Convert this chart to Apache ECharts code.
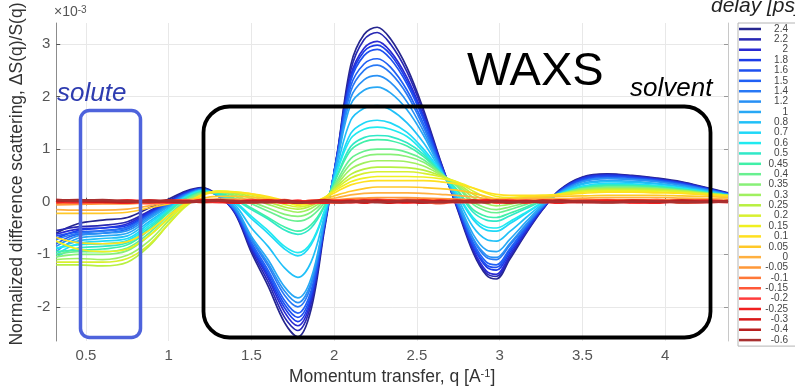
<!DOCTYPE html>
<html>
<head>
<meta charset="utf-8">
<script src="https://cdn.jsdelivr.net/npm/echarts@6/dist/echarts.min.js"></script>
<style>
html, body { margin: 0; padding: 0; background: #fff; }
#chart { width: 795px; height: 391px; }
</style>
</head>
<body>
<div id="chart"></div>
<script>
// momentum transfer grid, q [A^-1]
var q = [0.32, 0.45, 0.6, 0.75, 0.88, 1.0, 1.1, 1.2, 1.3, 1.4,
	1.5, 1.6, 1.7, 1.78, 1.86, 1.94, 2.02, 2.1, 2.18, 2.26,
	2.34, 2.44, 2.54, 2.64, 2.74, 2.84, 2.92, 2.98, 3.06, 3.16,
	3.26, 3.36, 3.5, 3.65, 3.8, 3.95, 4.1, 4.25, 4.38];

var delays = ['2.4', '2.2', '2', '1.8', '1.6', '1.5', '1.4', '1.2', '1', '0.8', '0.7', '0.6', '0.5', '0.45', '0.4',
	'0.35', '0.3', '0.25', '0.2', '0.15', '0.1', '0.05', '0', '-0.05', '-0.1', '-0.15', '-0.2', '-0.25', '-0.3', '-0.4', '-0.6'];

var xTicks = [0.5, 1, 1.5, 2, 2.5, 3, 3.5, 4];
var yTicks = [-2, -1, 0, 1, 2, 3];

// dS/S (x1e-3) for each delay
var d24 = [-0.6, -0.42, -0.35, -0.3, -0.12, 0.05, 0.2, 0.27, 0.12, -0.22, -0.97, -1.6, -2.3, -2.57, -2.05, -0.55, 0.95, 2.6, 3.18, 3.32, 3.1, 2.55, 1.75, 0.8, -0.1, -0.97, -1.4, -1.47, -1.1, -0.6, -0.15, 0.22, 0.47, 0.53, 0.5, 0.45, 0.38, 0.27, 0.17];
var d22 = [-0.55, -0.48, -0.45, -0.38, -0.18, 0.02, 0.18, 0.26, 0.12, -0.2, -0.92, -1.52, -2.2, -2.45, -1.95, -0.5, 0.95, 2.5, 3.08, 3.22, 3.0, 2.47, 1.7, 0.78, -0.08, -0.93, -1.36, -1.42, -1.06, -0.58, -0.14, 0.21, 0.46, 0.52, 0.49, 0.44, 0.37, 0.26, 0.16];
var d20 = [-0.62, -0.52, -0.5, -0.42, -0.2, 0.0, 0.17, 0.25, 0.11, -0.2, -0.88, -1.45, -2.1, -2.36, -1.88, -0.48, 0.93, 2.4, 2.92, 3.05, 2.86, 2.36, 1.63, 0.76, -0.06, -0.9, -1.32, -1.38, -1.02, -0.56, -0.13, 0.2, 0.44, 0.5, 0.48, 0.43, 0.36, 0.25, 0.16];
var d18 = [-0.7, -0.55, -0.5, -0.45, -0.22, -0.02, 0.16, 0.25, 0.11, -0.18, -0.85, -1.4, -2.02, -2.28, -1.82, -0.46, 0.92, 2.35, 2.86, 2.98, 2.8, 2.3, 1.6, 0.74, -0.05, -0.85, -1.24, -1.3, -0.97, -0.53, -0.12, 0.2, 0.44, 0.5, 0.47, 0.42, 0.35, 0.25, 0.15];
var d16 = [-0.65, -0.58, -0.55, -0.48, -0.24, -0.03, 0.15, 0.24, 0.11, -0.17, -0.82, -1.35, -1.95, -2.2, -1.76, -0.45, 0.9, 2.3, 2.78, 2.9, 2.72, 2.24, 1.56, 0.72, -0.04, -0.82, -1.2, -1.25, -0.93, -0.5, -0.11, 0.19, 0.42, 0.48, 0.46, 0.41, 0.34, 0.24, 0.15];
var d15 = [-0.8, -0.62, -0.6, -0.52, -0.26, -0.04, 0.14, 0.24, 0.11, -0.16, -0.78, -1.3, -1.88, -2.12, -1.7, -0.43, 0.88, 2.2, 2.62, 2.72, 2.56, 2.12, 1.48, 0.7, -0.02, -0.78, -1.15, -1.2, -0.9, -0.48, -0.1, 0.18, 0.4, 0.46, 0.44, 0.4, 0.33, 0.23, 0.14];
var d14 = [-0.72, -0.6, -0.56, -0.5, -0.27, -0.05, 0.13, 0.23, 0.11, -0.15, -0.73, -1.22, -1.78, -2.0, -1.6, -0.4, 0.86, 2.1, 2.5, 2.6, 2.45, 2.04, 1.42, 0.68, 0.0, -0.72, -1.06, -1.1, -0.83, -0.45, -0.09, 0.18, 0.39, 0.45, 0.43, 0.39, 0.32, 0.23, 0.14];
var d12 = [-0.85, -0.65, -0.6, -0.55, -0.3, -0.07, 0.12, 0.22, 0.11, -0.13, -0.7, -1.17, -1.7, -1.92, -1.54, -0.38, 0.84, 1.98, 2.32, 2.4, 2.27, 1.9, 1.34, 0.66, 0.02, -0.7, -1.02, -1.06, -0.8, -0.43, -0.08, 0.17, 0.38, 0.44, 0.42, 0.38, 0.31, 0.22, 0.14];
var d10 = [-0.95, -0.7, -0.65, -0.6, -0.33, -0.09, 0.11, 0.22, 0.12, -0.1, -0.66, -1.1, -1.62, -1.83, -1.46, -0.36, 0.8, 1.85, 2.12, 2.18, 2.07, 1.75, 1.26, 0.64, 0.05, -0.62, -0.92, -0.95, -0.72, -0.38, -0.06, 0.16, 0.35, 0.4, 0.39, 0.35, 0.29, 0.21, 0.13];
var d08 = [-0.9, -0.75, -0.7, -0.65, -0.38, -0.12, 0.1, 0.21, 0.13, -0.06, -0.5, -0.85, -1.26, -1.44, -1.15, -0.28, 0.7, 1.55, 1.78, 1.83, 1.75, 1.5, 1.12, 0.62, 0.1, -0.48, -0.72, -0.75, -0.57, -0.3, -0.04, 0.15, 0.33, 0.38, 0.37, 0.34, 0.28, 0.2, 0.13];
var d07 = [-1.0, -0.8, -0.75, -0.7, -0.42, -0.14, 0.09, 0.2, 0.14, -0.02, -0.32, -0.6, -0.9, -1.03, -0.82, -0.2, 0.62, 1.3, 1.5, 1.55, 1.5, 1.32, 1.0, 0.6, 0.15, -0.34, -0.54, -0.56, -0.42, -0.22, -0.02, 0.15, 0.3, 0.35, 0.34, 0.31, 0.26, 0.19, 0.12];
var d06 = [-0.88, -0.82, -0.8, -0.74, -0.46, -0.16, 0.08, 0.2, 0.15, 0.0, -0.28, -0.55, -0.85, -0.97, -0.78, -0.18, 0.6, 1.2, 1.38, 1.42, 1.38, 1.24, 0.95, 0.58, 0.17, -0.3, -0.48, -0.5, -0.38, -0.2, -0.01, 0.14, 0.28, 0.33, 0.32, 0.3, 0.25, 0.18, 0.12];
var d05 = [-1.05, -0.88, -0.85, -0.78, -0.5, -0.18, 0.06, 0.19, 0.16, 0.04, -0.15, -0.33, -0.54, -0.62, -0.5, -0.1, 0.52, 1.05, 1.22, 1.26, 1.24, 1.12, 0.9, 0.57, 0.22, -0.2, -0.35, -0.37, -0.27, -0.13, 0.02, 0.14, 0.27, 0.32, 0.31, 0.29, 0.24, 0.18, 0.12];
var d045 = [-0.95, -0.92, -0.9, -0.82, -0.54, -0.2, 0.05, 0.18, 0.17, 0.06, -0.12, -0.3, -0.48, -0.56, -0.44, -0.08, 0.5, 0.98, 1.14, 1.18, 1.16, 1.06, 0.86, 0.56, 0.24, -0.15, -0.28, -0.3, -0.22, -0.1, 0.03, 0.14, 0.26, 0.3, 0.3, 0.28, 0.23, 0.17, 0.12];
var d04 = [-1.0, -0.95, -0.95, -0.88, -0.6, -0.25, 0.02, 0.17, 0.18, 0.1, -0.04, -0.18, -0.32, -0.37, -0.28, -0.02, 0.42, 0.82, 0.96, 1.0, 1.0, 0.94, 0.8, 0.55, 0.3, -0.05, -0.18, -0.21, -0.15, -0.05, 0.05, 0.14, 0.25, 0.28, 0.28, 0.26, 0.22, 0.17, 0.12];
var d035 = [-1.05, -1.0, -1.0, -0.93, -0.65, -0.3, 0.0, 0.16, 0.18, 0.12, 0.0, -0.12, -0.24, -0.28, -0.2, 0.02, 0.38, 0.72, 0.86, 0.9, 0.9, 0.86, 0.75, 0.54, 0.32, 0.0, -0.12, -0.15, -0.1, -0.02, 0.06, 0.14, 0.24, 0.27, 0.27, 0.25, 0.21, 0.16, 0.12];
var d03 = [-1.1, -1.08, -1.1, -1.02, -0.75, -0.36, -0.04, 0.15, 0.19, 0.15, 0.06, -0.05, -0.15, -0.2, -0.13, 0.05, 0.34, 0.62, 0.74, 0.78, 0.78, 0.76, 0.68, 0.52, 0.34, 0.08, -0.04, -0.08, -0.05, 0.02, 0.08, 0.14, 0.22, 0.25, 0.25, 0.24, 0.2, 0.16, 0.12];
var d025 = [-1.2, -1.2, -1.22, -1.15, -0.85, -0.42, -0.08, 0.13, 0.19, 0.17, 0.1, 0.0, -0.1, -0.14, -0.08, 0.06, 0.3, 0.52, 0.62, 0.66, 0.66, 0.65, 0.6, 0.5, 0.36, 0.14, 0.02, -0.03, -0.01, 0.04, 0.09, 0.14, 0.21, 0.24, 0.24, 0.23, 0.2, 0.15, 0.11];
var d02 = [-1.15, -1.15, -1.15, -1.08, -0.82, -0.42, -0.1, 0.12, 0.2, 0.18, 0.13, 0.05, -0.05, -0.1, -0.05, 0.07, 0.27, 0.45, 0.54, 0.57, 0.57, 0.57, 0.54, 0.48, 0.38, 0.2, 0.08, 0.02, 0.03, 0.07, 0.1, 0.14, 0.2, 0.22, 0.22, 0.21, 0.19, 0.15, 0.11];
var d015 = [-0.75, -0.9, -0.95, -0.9, -0.65, -0.32, -0.06, 0.13, 0.2, 0.19, 0.15, 0.08, 0.0, -0.07, -0.03, 0.08, 0.24, 0.38, 0.45, 0.48, 0.48, 0.48, 0.47, 0.44, 0.38, 0.26, 0.16, 0.1, 0.08, 0.1, 0.12, 0.14, 0.18, 0.2, 0.2, 0.19, 0.17, 0.14, 0.11];
var d01 = [-0.68, -0.78, -0.8, -0.76, -0.55, -0.26, -0.04, 0.12, 0.18, 0.18, 0.15, 0.1, 0.02, -0.05, -0.02, 0.07, 0.2, 0.32, 0.38, 0.4, 0.4, 0.4, 0.4, 0.38, 0.34, 0.26, 0.18, 0.14, 0.12, 0.12, 0.12, 0.13, 0.16, 0.18, 0.18, 0.17, 0.16, 0.13, 0.1];
var d005 = [-0.22, -0.22, -0.22, -0.2, -0.12, -0.04, 0.03, 0.07, 0.1, 0.1, 0.09, 0.06, 0.02, -0.03, -0.01, 0.05, 0.13, 0.2, 0.25, 0.28, 0.28, 0.28, 0.27, 0.25, 0.22, 0.16, 0.1, 0.06, 0.06, 0.08, 0.09, 0.1, 0.11, 0.12, 0.12, 0.12, 0.11, 0.1, 0.08];
var d0 = [-0.15, -0.16, -0.16, -0.14, -0.08, -0.02, 0.02, 0.04, 0.05, 0.05, 0.05, 0.04, 0.01, -0.02, -0.01, 0.03, 0.08, 0.13, 0.16, 0.17, 0.17, 0.17, 0.16, 0.14, 0.12, 0.09, 0.06, 0.04, 0.04, 0.05, 0.06, 0.06, 0.07, 0.08, 0.08, 0.08, 0.07, 0.06, 0.05];
var dm005 = [-0.06, -0.05, -0.04, -0.04, -0.02, 0.0, 0.01, 0.02, 0.02, 0.02, 0.02, 0.01, 0.0, -0.01, 0.0, 0.02, 0.04, 0.06, 0.07, 0.08, 0.08, 0.08, 0.07, 0.06, 0.05, 0.04, 0.03, 0.02, 0.02, 0.03, 0.03, 0.03, 0.04, 0.04, 0.04, 0.04, 0.03, 0.03, 0.02];
var dm01 = [-0.02, -0.02, -0.01, -0.02, 0.0, 0.01, 0.0, 0.01, 0.02, 0.01, 0.0, 0.01, -0.01, 0.0, 0.01, 0.02, 0.02, 0.03, 0.04, 0.04, 0.03, 0.04, 0.03, 0.03, 0.02, 0.02, 0.01, 0.01, 0.02, 0.01, 0.02, 0.02, 0.02, 0.03, 0.02, 0.02, 0.02, 0.01, 0.01];
var dm015 = [0.01, -0.02, 0.02, 0.0, -0.03, 0.01, 0.03, -0.01, 0.0, 0.02, -0.02, 0.01, 0.03, -0.01, 0.02, 0.0, -0.02, 0.01, 0.03, 0.0, -0.01, 0.02, 0.0, -0.03, 0.01, 0.02, -0.01, 0.0, 0.03, -0.02, 0.01, 0.0, 0.02, -0.01, 0.01, 0.03, -0.02, 0.0, 0.01];
var dm02 = [0.02, 0.0, -0.01, 0.02, 0.01, -0.02, 0.0, 0.02, -0.01, 0.0, 0.03, -0.01, 0.0, 0.02, -0.03, 0.01, 0.02, -0.01, 0.0, 0.03, 0.01, -0.02, 0.02, 0.0, -0.01, 0.01, 0.03, -0.02, 0.0, 0.02, -0.01, 0.02, 0.0, 0.01, -0.02, 0.0, 0.02, 0.01, -0.01];
var dm025 = [-0.01, 0.02, 0.0, -0.02, 0.02, 0.0, -0.01, 0.03, 0.01, -0.02, 0.0, 0.02, -0.02, 0.01, 0.0, -0.02, 0.01, 0.02, -0.02, 0.01, 0.02, 0.0, -0.02, 0.02, 0.0, -0.01, 0.02, 0.01, -0.02, 0.01, 0.0, -0.02, 0.01, 0.02, 0.0, -0.02, 0.01, 0.02, 0.0];
var dm03 = [0.03, 0.01, 0.0, 0.02, -0.01, 0.02, 0.01, 0.0, 0.02, -0.01, 0.01, 0.02, 0.0, -0.02, 0.01, 0.03, 0.0, -0.01, 0.02, 0.01, -0.02, 0.01, 0.02, 0.0, 0.02, -0.01, 0.0, 0.02, 0.01, -0.01, 0.02, 0.01, -0.01, 0.0, 0.02, 0.01, 0.0, -0.01, 0.02];
var dm04 = [0.02, 0.03, 0.01, 0.0, 0.02, 0.01, -0.01, 0.01, 0.03, 0.0, 0.01, -0.01, 0.02, 0.0, -0.01, 0.02, 0.0, 0.01, -0.01, 0.02, 0.0, 0.01, -0.01, 0.01, 0.0, 0.02, -0.01, 0.01, 0.0, 0.01, -0.01, 0.02, 0.0, -0.01, 0.01, 0.0, 0.02, 0.0, 0.01];
var dm06 = [0.03, 0.02, 0.03, 0.01, 0.0, 0.02, 0.0, 0.01, 0.02, 0.01, -0.01, 0.0, 0.01, -0.02, 0.0, 0.01, -0.01, 0.0, 0.01, -0.01, 0.0, 0.02, 0.0, -0.01, 0.01, 0.0, -0.01, 0.01, -0.01, 0.0, 0.01, 0.0, 0.01, -0.01, 0.0, 0.01, -0.01, 0.0, 0.0];

var curves = [d24, d22, d20, d18, d16, d15, d14, d12, d10, d08, d07, d06, d05, d045, d04,
	d035, d03, d025, d02, d015, d01, d005, d0, dm005, dm01, dm015, dm02, dm025, dm03, dm04, dm06];

// jet-like colours, one per delay
var colors = ['#26268f', '#2828b4', '#2a2ad2', '#1c3ce8', '#1e50f0', '#2060f5', '#2878f5', '#2890f5', '#28a8f5', '#20c0f8',
	'#20d8f8', '#20eaf0', '#30e8c8', '#40f0a8', '#68f090', '#88f078', '#a0f060', '#b8f040', '#d8f030', '#f0f020',
	'#ffe020', '#ffc828', '#ffb040', '#ff9838', '#ff7838', '#ff5838', '#ff3c3c', '#f02020', '#d81818', '#b82020', '#a83030'];

var font = '"Liberation Sans", Arial, sans-serif';

var chart = echarts.init(document.getElementById('chart'));

var series = curves.map(function (vals, i) {
	return {
		name: delays[i],
		type: 'line',
		data: q.map(function (x, j) { return [x, vals[j]]; }),
		symbol: 'none',
		showSymbol: false,
		smooth: 0.35,
		silent: true,
		lineStyle: { width: i >= 24 ? 2.6 : 1.7, color: colors[i] },
		itemStyle: { color: colors[i] }
	};
});

var option = {
	animation: false,
	backgroundColor: '#fff',
	textStyle: { fontFamily: font },
	grid: { left: 53, right: 67, top: 22, bottom: 49 },
	xAxis: [{
		type: 'value', min: 0.32, max: 4.38,
		name: 'Momentum transfer, q [A{s|-1}]',
		nameLocation: 'middle', nameGap: 27,
		nameTextStyle: { fontSize: 17.5, color: '#333', rich: { s: { fontSize: 11, verticalAlign: 'top', color: '#333' } } },
		axisLine: { lineStyle: { color: '#8c8c8c' } },
		axisTick: { inside: true, length: 4, customValues: xTicks, lineStyle: { color: '#555' } },
		axisLabel: { customValues: xTicks, formatter: function (v) { return String(v); }, fontSize: 15, color: '#555', margin: 7 },
		splitLine: { show: true, lineStyle: { color: '#e8e8e8' } }
	}, {
		type: 'value', min: 0.32, max: 4.38, position: 'top',
		axisLine: { lineStyle: { color: '#c8c8c8' } },
		axisTick: { inside: true, length: 4, customValues: xTicks, lineStyle: { color: '#999' } },
		axisLabel: { show: false },
		splitLine: { show: false }
	}],
	yAxis: [{
		type: 'value', min: -2.65, max: 3.4,
		name: 'Normalized difference scattering, ΔS(q)/S(q)',
		nameLocation: 'middle', nameGap: 18,
		nameTextStyle: { fontSize: 17.5, color: '#333', padding: [0, 0, 0, 16] },
		axisLine: { show: true, lineStyle: { color: '#8c8c8c' } },
		axisTick: { show: true, inside: true, length: 4, customValues: yTicks, lineStyle: { color: '#555' } },
		axisLabel: { customValues: yTicks, formatter: function (v) { return String(v); }, fontSize: 15, color: '#555', margin: 6 },
		splitLine: { show: true, lineStyle: { color: '#e8e8e8' } }
	}, {
		type: 'value', min: -2.65, max: 3.4, position: 'right',
		axisLine: { show: true, lineStyle: { color: '#c8c8c8' } },
		axisTick: { show: true, inside: true, length: 4, customValues: yTicks, lineStyle: { color: '#999' } },
		axisLabel: { show: false },
		splitLine: { show: false }
	}],
	legend: {
		orient: 'vertical', left: 738, top: 23,
		padding: [1, 20, 1, 1],
		icon: 'rect',
		itemWidth: 22, itemHeight: 2.5, itemGap: 0.37,
		borderColor: '#b4b4b4', borderWidth: 1, backgroundColor: '#fff',
		selectedMode: false,
		data: delays,
		formatter: function (n) { return '{a|' + n + '}'; },
		textStyle: {
			fontSize: 10, lineHeight: 10, color: '#444',
			rich: { a: { width: 22, align: 'right', fontSize: 10, lineHeight: 10, color: '#444' } }
		}
	},
	graphic: [
		{ type: 'text', x: 54, y: 5, style: { text: '×10{s|-3}', font: '14px ' + font, fill: '#555', rich: { s: { fontSize: 10, verticalAlign: 'top', fill: '#555' } } } },
		{ type: 'text', x: 711, y: 6, style: { text: 'delay [ps]', font: 'italic 21px ' + font, fill: '#222', verticalAlign: 'middle' } },
		{ type: 'rect', shape: { x: 80.5, y: 110.5, width: 60, height: 227, r: 9 }, style: { fill: 'none', stroke: '#4e63dc', lineWidth: 3.5 }, z: 100 },
		{ type: 'rect', shape: { x: 203.5, y: 106.5, width: 507, height: 231, r: 26 }, style: { fill: 'none', stroke: '#000', lineWidth: 3.8 }, z: 100 },
		{ type: 'text', x: 57, y: 94, style: { text: 'solute', font: 'italic 26px ' + font, fill: '#2e3cb0', verticalAlign: 'middle' }, z: 100 },
		{ type: 'text', x: 467, y: 72, style: { text: 'WAXS', font: '47px ' + font, fill: '#000', verticalAlign: 'middle' }, z: 100 },
		{ type: 'text', x: 630, y: 89, style: { text: 'solvent', font: 'italic 26px ' + font, fill: '#000', verticalAlign: 'middle' }, z: 100 }
	],
	series: series
};

chart.setOption(option);
</script>
</body>
</html>
